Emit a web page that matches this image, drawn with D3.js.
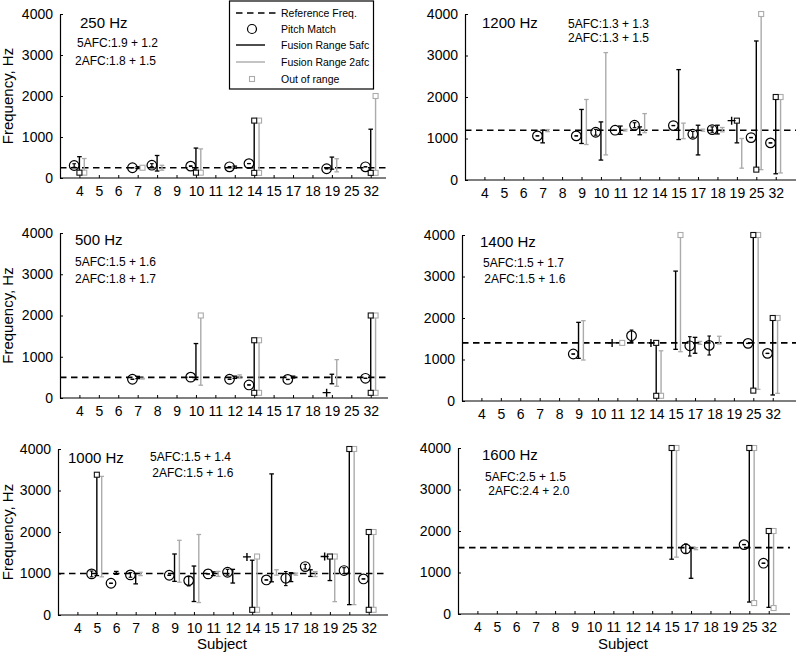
<!DOCTYPE html>
<html><head><meta charset="utf-8">
<script src="https://cdn.jsdelivr.net/npm/d3@7"></script>
<style>
body{margin:0;background:#fff;}
svg text{font-family:"Liberation Sans",Arial,sans-serif;fill:#000;}
</style></head>
<body>
<svg id="chart" width="796" height="656"></svg>
<script>
// ---------- data ----------
const subjects = ["4","5","6","7","8","9","10","11","12","14","15","17","18","19","25","32"];
const yTicks = [0,1000,2000,3000,4000];
const panelTitles = ["250 Hz","1200 Hz","500 Hz","1400 Hz","1000 Hz","1600 Hz"];
const refFreqs = [250,1200,500,1400,1000,1600];
const notes5afc = ["5AFC:1.9 + 1.2","5AFC:1.3 + 1.3","5AFC:1.5 + 1.6","5AFC:1.5 + 1.7","5AFC:1.5 + 1.4","5AFC:2.5 + 1.5"];
const notes2afc = ["2AFC:1.8 + 1.5","2AFC:1.3 + 1.5","2AFC:1.8 + 1.7"," 2AFC:1.5 + 1.6"," 2AFC:1.5 + 1.6"," 2AFC:2.4 + 2.0"];
const legendLabels = ["Reference Freq.","Pitch Match","Fusion Range 5afc","Fusion Range 2afc","Out of range"];

// pitch match: [subject, value, errLow, errHigh, marker]
const pitch250 = [["4",305,262,348,"o"],["7",250,247,253,"o"],["8",312,275,350,"o"],["10",289,280,298,"o"],["12",273,268,278,"o"],["14",351,348,354,"o"],["19",226,221,231,"o"],["32",273,270,276,"o"]];
const pitch1200 = [["7",1063,1060,1066,"o"],["9",1063,1060,1066,"o"],["10",1151,1080,1220,"o"],["11",1200,1196,1204,"o"],["12",1320,1260,1380,"o"],["15",1311,1307,1315,"o"],["17",1102,1030,1170,"o"],["18",1215,1150,1280,"o"],["19",1430,null,null,"+"],["25",1022,1018,1026,"o"],["32",894,890,898,"o"]];
const pitch500 = [["7",454,451,457,"o"],["10",505,501,509,"o"],["12",454,450,458,"o"],["14",316,312,320,"o"],["17",450,446,454,"o"],["19",130,null,null,"+"],["32",478,474,482,"o"]];
const pitch1400 = [["9",1132,1129,1135,"o"],["11",1400,null,null,"+"],["12",1574,1430,1710,"o"],["14",1400,null,null,"+"],["17",1330,1084,1550,"o"],["18",1340,1108,1566,"o"],["25",1389,1385,1393,"o"],["32",1148,1144,1152,"o"]];
const pitch1000 = [["5",990,920,1060,"o"],["6",765,761,769,"o"],["7",966,910,1020,"o"],["9",958,954,962,"o"],["10",829,700,926,"o"],["11",990,986,994,"o"],["12",1030,960,1100,"o"],["14",1400,null,null,"+"],["15",845,841,849,"o"],["17",886,708,1047,"o"],["18",1167,1110,1220,"o"],["19",1409,null,null,"+"],["25",1071,1000,1140,"o"],["32",869,865,873,"o"]];
const pitch1600 = [["17",1568,1464,1688,"o"],["25",1672,1668,1676,"o"],["32",1224,1220,1228,"o"]];

// fusion range: [subject, low, high, lowOutOfRange, highOutOfRange]
const fusion5_250 = [["4",130,520,true,false],["7",230,275,false,false],["8",170,549,false,false],["10",130,730,true,false],["12",240,290,false,false],["14",125,1400,true,true],["19",215,510,false,false],["32",125,1190,true,false]];
const fusion2_250 = [["4",130,475,true,false],["7",250,250,false,true],["8",190,310,false,false],["10",130,710,true,false],["14",125,1400,true,true],["19",150,470,false,false],["32",125,2000,true,true]];
const fusion5_1200 = [["7",895,1200,false,false],["9",880,1700,false,false],["10",480,1400,false,false],["11",1100,1300,false,false],["12",1090,1280,false,false],["15",975,2660,false,false],["17",604,1320,false,false],["18",1110,1320,false,false],["19",895,1430,false,true],["25",250,3350,true,false],["32",150,2000,false,true]];
const fusion2_1200 = [["7",1165,1215,false,false],["9",855,1940,false,false],["10",605,3070,false,false],["11",1180,1220,false,false],["12",1140,1600,false,false],["15",995,1370,false,false],["17",1175,1225,false,false],["18",1160,1265,false,false],["19",285,1000,false,false],["25",250,4000,false,true],["32",170,2000,false,true]];
const fusion5_500 = [["7",470,525,false,false],["10",446,1320,false,false],["12",475,530,false,false],["14",125,1400,true,true],["17",485,530,false,false],["19",345,576,false,false],["32",125,2000,true,true]];
const fusion2_500 = [["7",460,480,false,false],["10",310,2000,false,true],["12",480,560,false,false],["14",125,1400,true,true],["19",284,930,false,false],["32",125,2000,true,true]];
const fusion5_1400 = [["9",1028,1895,false,false],["14",125,1400,true,true],["15",1245,3130,false,false],["17",1150,1534,false,false],["25",250,4000,true,true],["32",145,2000,false,true]];
const fusion2_1400 = [["9",988,1935,false,false],["11",1400,1400,false,true],["14",125,1210,true,false],["15",1188,4000,false,true],["17",1365,1437,false,false],["18",1373,1560,false,false],["25",280,4000,false,true],["32",185,2000,false,true]];
const fusion5_1000 = [["5",950,3380,false,true],["6",980,1050,false,false],["7",750,1000,false,false],["9",810,1470,false,false],["10",325,1180,false,false],["11",950,1040,false,false],["12",770,1100,false,false],["14",125,1320,true,false],["15",800,3400,false,false],["17",805,1020,false,false],["18",930,1090,false,false],["19",830,1409,false,true],["25",250,4000,false,true],["32",125,2000,true,true]];
const fusion2_1000 = [["5",920,3340,false,false],["7",950,1030,false,false],["9",790,1800,false,false],["10",300,1940,false,false],["11",930,1050,false,false],["14",125,1409,true,true],["15",960,1090,false,false],["17",960,1010,false,false],["18",926,1047,false,false],["19",322,1409,false,true],["25",250,4000,false,true],["32",125,2000,true,true]];
const fusion5_1600 = [["15",1320,4000,false,true],["17",860,1580,false,false],["25",288,4000,false,true],["32",160,2000,false,true]];
const fusion2_1600 = [["15",1370,4000,false,true],["17",1550,1600,false,false],["25",264,4000,true,true],["32",144,2000,true,true]];

const pitchData = [pitch250,pitch1200,pitch500,pitch1400,pitch1000,pitch1600];
const fusion5Data = [fusion5_250,fusion5_1200,fusion5_500,fusion5_1400,fusion5_1000,fusion5_1600];
const fusion2Data = [fusion2_250,fusion2_1200,fusion2_500,fusion2_1400,fusion2_1000,fusion2_1600];

// ---------- layout ----------
const layout = [
  {x0:60, x1:386, yt:14, yb:178, title:[80,28], n5:[77,47], n2:[75,65], ylab:true},
  {x0:465,x1:796, yt:14, yb:180, title:[482,28], n5:[568,28], n2:[568,42]},
  {x0:60, x1:388, yt:233,yb:398, title:[75,245], n5:[75,266], n2:[75,283], ylab:true},
  {x0:462,x1:796, yt:235,yb:401, title:[480,247], n5:[483,267], n2:[481,283]},
  {x0:58, x1:388, yt:449,yb:615, title:[68,463], n5:[150,461], n2:[149,477], ylab:true, xlab:true},
  {x0:458,x1:790, yt:448,yb:614, title:[482,460], n5:[485,481], n2:[485,495], xlab:true}
];
const STEP = 19.42, GREY = "#ababab", CAP = 2.3, PCAP = 1.8;

const svg = d3.select("#chart");

function drawPanel(p){
  const L = layout[p];
  const g = svg.append("g");
  const x = d3.scaleLinear().domain([-1,15]).range([L.x0, L.x0 + STEP*16]);
  const y = d3.scaleLinear().domain([0,4000]).range([L.yb, L.yt]);
  const si = s => subjects.indexOf(s);

  // x axis
  const xa = g.append("g").attr("transform",`translate(0,${y(0)})`)
    .call(d3.axisBottom(x).tickValues(d3.range(subjects.length)).tickFormat(i=>subjects[i])
      .tickSizeInner(-3).tickSizeOuter(0).tickPadding(8));
  xa.select(".domain").remove();
  xa.append("line").attr("x1",L.x0).attr("x2",L.x1).attr("stroke","#000").attr("stroke-width",1.2);
  xa.selectAll("text").attr("font-size",14).attr("font-family","Liberation Sans, Arial, sans-serif");
  xa.selectAll(".tick line").attr("stroke-width",1);

  // y axis
  const ya = g.append("g").attr("transform",`translate(${L.x0},0)`)
    .call(d3.axisLeft(y).tickValues(yTicks).tickFormat(d3.format("d"))
      .tickSizeInner(-3).tickSizeOuter(0).tickPadding(7));
  ya.select(".domain").attr("stroke-width",1.2);
  ya.selectAll("text").attr("font-size",14).attr("font-family","Liberation Sans, Arial, sans-serif");

  // reference line
  g.append("line").attr("x1",L.x0).attr("x2",L.x1).attr("y1",y(refFreqs[p])).attr("y2",y(refFreqs[p]))
    .attr("stroke","#000").attr("stroke-width",1.6).attr("stroke-dasharray","6.5,4.5");

  // fusion ranges
  function ranges(data, off, color, w){
    const rg = g.append("g");
    data.forEach(d=>{
      const cx = x(si(d[0]) + off);
      rg.append("line").attr("x1",cx).attr("x2",cx).attr("y1",y(d[1])).attr("y2",y(d[2]))
        .attr("stroke",color).attr("stroke-width",w);
      [[d[1],d[3]],[d[2],d[4]]].forEach(([v,out])=>{
        if(!out){
          rg.append("line").attr("x1",cx-CAP).attr("x2",cx+CAP).attr("y1",y(v)).attr("y2",y(v))
            .attr("stroke",color).attr("stroke-width",1.3);
        }
      });
    });
    return rg;
  }
  function squares(data, off, color){
    data.forEach(d=>{
      const cx = x(si(d[0]) + off);
      [[d[1],d[3]],[d[2],d[4]]].forEach(([v,out])=>{
        if(out){
          g.append("rect").attr("x",cx-2.5).attr("y",y(v)-2.5).attr("width",5).attr("height",5)
            .attr("fill","#fff").attr("stroke",color).attr("stroke-width",1.1);
        }
      });
    });
  }
  ranges(fusion2Data[p], 0.25, GREY, 1.4);
  ranges(fusion5Data[p], 0, "#000", 1.4);
  squares(fusion2Data[p], 0.25, GREY);
  squares(fusion5Data[p], 0, "#111");

  // pitch matches
  pitchData[p].forEach(d=>{
    const cx = x(si(d[0]) - 0.27), cy = y(d[1]);
    if(d[4] === "+"){
      g.append("path").attr("d",`M${cx-4},${cy}H${cx+4}M${cx},${cy-4}V${cy+4}`)
        .attr("stroke","#000").attr("stroke-width",1.4).attr("fill","none");
    } else {
      g.append("line").attr("x1",cx).attr("x2",cx).attr("y1",y(d[2])).attr("y2",y(d[3]))
        .attr("stroke","#000").attr("stroke-width",1.2);
      [d[2],d[3]].forEach(v=>{
        g.append("line").attr("x1",cx-PCAP).attr("x2",cx+PCAP).attr("y1",y(v)).attr("y2",y(v))
          .attr("stroke","#000").attr("stroke-width",1.1);
      });
      g.append("circle").attr("cx",cx).attr("cy",cy).attr("r",4.8)
        .attr("fill","none").attr("stroke","#000").attr("stroke-width",1.2);
    }
  });

  // annotations
  g.append("text").attr("x",L.title[0]).attr("y",L.title[1]).attr("font-size",15).text(panelTitles[p]);
  g.append("text").attr("x",L.n5[0]).attr("y",L.n5[1]).attr("font-size",12).attr("xml:space","preserve").text(notes5afc[p]);
  g.append("text").attr("x",L.n2[0]).attr("y",L.n2[1]).attr("font-size",12).attr("xml:space","preserve").text(notes2afc[p]);

  if(L.ylab){
    g.append("text").attr("transform",`translate(13,${(L.yt+L.yb)/2}) rotate(-90)`)
      .attr("text-anchor","middle").attr("font-size",15).text("Frequency, Hz");
  }
  if(L.xlab){
    g.append("text").attr("x",(L.x0+L.x1)/2 - 1).attr("y",649).attr("text-anchor","middle")
      .attr("font-size",15).text("Subject");
  }
}

for(let p=0;p<6;p++) drawPanel(p);

// legend
const lg = svg.append("g");
lg.append("rect").attr("x",229.5).attr("y",1).attr("width",144).attr("height",88)
  .attr("fill","#fff").attr("stroke","#000").attr("stroke-width",1.2);
const ly = [13,29,45,62,79];
lg.append("line").attr("x1",236).attr("x2",276).attr("y1",ly[0]).attr("y2",ly[0])
  .attr("stroke","#000").attr("stroke-width",1.6).attr("stroke-dasharray","6.5,4.5");
lg.append("circle").attr("cx",252).attr("cy",ly[1]).attr("r",4.5).attr("fill","none").attr("stroke","#000").attr("stroke-width",1.2);
lg.append("line").attr("x1",236).attr("x2",265).attr("y1",ly[2]).attr("y2",ly[2]).attr("stroke","#000").attr("stroke-width",1.4);
lg.append("line").attr("x1",236).attr("x2",265).attr("y1",ly[3]).attr("y2",ly[3]).attr("stroke",GREY).attr("stroke-width",1.4);
lg.append("rect").attr("x",249.5).attr("y",ly[4]-2.5).attr("width",5).attr("height",5).attr("fill","#fff").attr("stroke",GREY).attr("stroke-width",1.1);
legendLabels.forEach((t,i)=>{
  lg.append("text").attr("x",281).attr("y",ly[i]).attr("dy","0.35em").attr("font-size",10.5).text(t);
});
</script>
</body></html>
